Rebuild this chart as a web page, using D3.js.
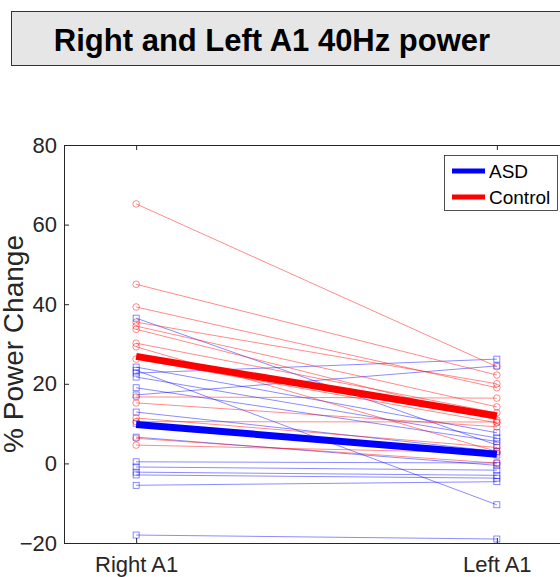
<!DOCTYPE html>
<html>
<head>
<meta charset="utf-8">
<script src="https://cdn.jsdelivr.net/npm/d3@7"></script>
<style>
  body { margin: 0; background: #fff; }
  svg { display: block; font-family: "Liberation Sans", Arial, sans-serif; }
</style>
</head>
<body>
<svg width="560" height="577"></svg>
<script>
// conditions on the x axis
var conditions = ["Right A1", "Left A1"];

// individual subjects: value at Right A1, value at Left A1
var asdRight = [36.5, 24.2, 23.4, 22.7, 21.7, 19.0, 17.2, 12.9, 10.1, 6.6, 0.4, -0.9, -2.2, -2.9, -5.5, -18.0];
var asdLeft  = [4.6, 7.7, -10.4, 26.2, 6.4, 5.5, 24.5, 3.0, 2.1, -0.5, 0.1, -1.7, -3.0, -3.7, -4.6, -19.0];

var ctrlRight = [65.2, 45.0, 39.3, 35.5, 34.5, 33.7, 30.2, 29.3, 26.2, 16.7, 15.2, 11.4, 10.5, 6.3, 4.6];
var ctrlLeft  = [24.3, 22.2, 19.0, 20.0, 14.2, 10.9, 12.7, 3.0, 10.2, 16.4, 9.2, 4.0, 10.4, 0.1, 2.6];

// group means
var asdMean  = [9.8, 2.3];
var ctrlMean = [26.9, 11.9];

var yTicks = [-20, 0, 20, 40, 60, 80];

var svg = d3.select("svg");

var x = d3.scaleLinear().domain([0.8, 2.2]).range([64, 569]);
var y = d3.scaleLinear().domain([-20, 80]).range([543, 145]);

// title box
svg.append("rect")
    .attr("x", 11.5).attr("y", 11.5)
    .attr("width", 600).attr("height", 54)
    .attr("fill", "#e6e6e6")
    .attr("stroke", "#333").attr("stroke-width", 1);

svg.append("text")
    .attr("x", 272).attr("y", 51)
    .attr("text-anchor", "middle")
    .attr("font-size", 31).attr("font-weight", "bold")
    .attr("fill", "#000")
    .text("Right and Left A1 40Hz power");

// axes
var axisColor = "#262626";

var yAxis = svg.append("g")
    .attr("transform", "translate(" + x(0.8) + ",0)")
    .call(d3.axisLeft(y).tickValues(yTicks).tickSize(-5).tickPadding(7));

var xAxis = svg.append("g")
    .attr("transform", "translate(0," + y(-20) + ")")
    .call(d3.axisBottom(x).tickValues([1, 2]).tickSize(-5).tickPadding(10)
      .tickFormat(function(d) { return conditions[d - 1]; }));

var xTop = svg.append("g")
    .attr("transform", "translate(0," + y(80) + ")")
    .call(d3.axisTop(x).tickValues([1, 2]).tickSize(-5).tickFormat(""));

[yAxis, xAxis, xTop].forEach(function(g) {
  g.select(".domain").remove();
  g.selectAll("line").attr("stroke", axisColor);
  g.selectAll("text").attr("fill", axisColor).attr("font-size", 22)
      .attr("font-family", "Liberation Sans, Arial, sans-serif");
});
xAxis.selectAll("text").attr("dy", "0.85em");

// plot box
svg.append("rect")
    .attr("x", x(0.8) + 0.5).attr("y", y(80) + 0.5)
    .attr("width", x(2.2) - x(0.8)).attr("height", y(-20) - y(80))
    .attr("fill", "none").attr("stroke", axisColor).attr("stroke-width", 1);

// y label
svg.append("text")
    .attr("transform", "translate(23," + ((y(80) + y(-20)) / 2) + ") rotate(-90)")
    .attr("text-anchor", "middle")
    .attr("font-size", 28)
    .attr("fill", axisColor)
    .text("% Power Change");

// subject lines
function subjects(right, left, color, cls) {
  var pairs = right.map(function(v, i) { return [v, left[i]]; });
  var g = svg.append("g").attr("class", cls);

  g.selectAll("line").data(pairs).enter().append("line")
      .attr("x1", x(1)).attr("x2", x(2))
      .attr("y1", function(d) { return y(d[0]); })
      .attr("y2", function(d) { return y(d[1]); })
      .attr("stroke", color).attr("stroke-width", 0.7).attr("stroke-opacity", 0.65);

  var pts = [];
  pairs.forEach(function(d) { pts.push([1, d[0]]); pts.push([2, d[1]]); });
  return { g: g, pts: pts };
}

var asd = subjects(asdRight, asdLeft, "#0000ff", "asd");
asd.g.selectAll("rect").data(asd.pts).enter().append("rect")
    .attr("x", function(d) { return x(d[0]) - 3; })
    .attr("y", function(d) { return y(d[1]) - 3; })
    .attr("width", 6).attr("height", 6)
    .attr("fill", "none").attr("stroke", "#0000ff")
    .attr("stroke-width", 0.7).attr("stroke-opacity", 0.65);

var ctrl = subjects(ctrlRight, ctrlLeft, "#ff0000", "ctrl");
ctrl.g.selectAll("circle").data(ctrl.pts).enter().append("circle")
    .attr("cx", function(d) { return x(d[0]); })
    .attr("cy", function(d) { return y(d[1]); })
    .attr("r", 3.3)
    .attr("fill", "none").attr("stroke", "#ff0000")
    .attr("stroke-width", 0.7).attr("stroke-opacity", 0.65);

// mean lines
var meanLine = d3.line()
    .x(function(d, i) { return x(i + 1); })
    .y(function(d) { return y(d); });

svg.append("path").datum(asdMean)
    .attr("d", meanLine)
    .attr("fill", "none").attr("stroke", "#0000ff").attr("stroke-width", 7);

svg.append("path").datum(ctrlMean)
    .attr("d", meanLine)
    .attr("fill", "none").attr("stroke", "#ff0000").attr("stroke-width", 7);

// legend
var legend = svg.append("g");
legend.append("rect")
    .attr("x", 444.5).attr("y", 155.5).attr("width", 113).attr("height", 55)
    .attr("fill", "#fff").attr("stroke", axisColor).attr("stroke-width", 0.8);

var legendItems = [["ASD", "#0000ff"], ["Control", "#ff0000"]];
legend.selectAll("line").data(legendItems).enter().append("line")
    .attr("x1", 452).attr("x2", 485)
    .attr("y1", function(d, i) { return 171 + i * 26; })
    .attr("y2", function(d, i) { return 171 + i * 26; })
    .attr("stroke", function(d) { return d[1]; }).attr("stroke-width", 5);

legend.selectAll("text").data(legendItems).enter().append("text")
    .attr("x", 489)
    .attr("y", function(d, i) { return 178 + i * 26; })
    .attr("font-size", 19).attr("fill", "#000")
    .text(function(d) { return d[0]; });
</script>
</body>
</html>
